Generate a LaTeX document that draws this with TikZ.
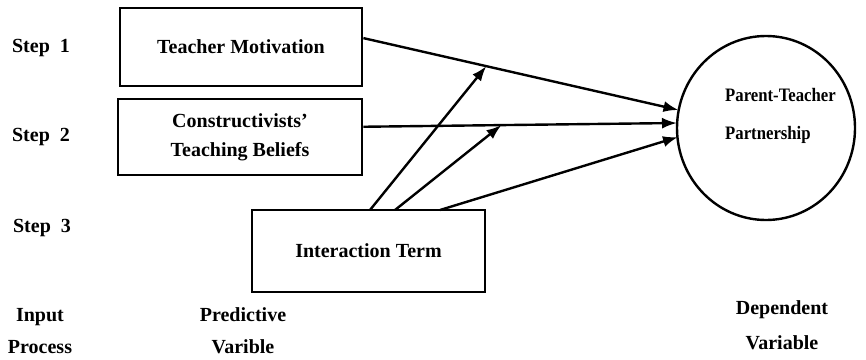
\documentclass[tikz,border=0pt]{standalone}
\usepackage{fontspec}
\setmainfont{Liberation Serif}
\usetikzlibrary{arrows.meta,shapes.geometric,calc}
\begin{document}
\begin{tikzpicture}[x=1pt,y=-1pt,
  font=\fontsize{20}{24}\selectfont\bfseries,
  box/.style={draw,line width=2.8pt,inner sep=0pt},
  lbl/.style={inner sep=0pt,align=center},
  arr/.style={line width=2.4pt,-{Latex[length=15pt,width=11pt]}}]
\useasboundingbox (0,0) rectangle (866,359);
% left step labels
\node[lbl] (step1) at (41,48) {Step\ \ 1};
\node[lbl] (step2) at (41,137) {Step\ \ 2};
\node[lbl] (step3) at (42,228) {Step\ \ 3};
% boxes
\node[box,minimum width=242pt,minimum height=78pt] (tm) at (241,47) {Teacher\ Motivation};
\node[box,minimum width=244pt,minimum height=76pt,align=center,font=\fontsize{20}{29}\selectfont\bfseries] (cb) at (240,137) {Constructivists'\\Teaching Beliefs};
\node[box,minimum width=233pt,minimum height=82pt] (it) at (368.5,251) {Interaction\ Term};
% dependent ellipse
\node[draw,ellipse,line width=2.4pt,minimum width=178pt,minimum height=184pt,inner sep=0pt] (ptp) at (766,128) {};
\node[inner sep=0pt,anchor=west,align=left,font=\fontsize{19}{38}\selectfont\bfseries\addfontfeature{FakeStretch=0.88}] (ptptext) at (725,116) {Parent-Teacher\\Partnership};
% bottom labels
\node[lbl,font=\fontsize{20}{32}\selectfont\bfseries] (input) at (40,331) {Input\\Process};
\node[lbl,font=\fontsize{20}{32}\selectfont\bfseries] (pred) at (243,331) {Predictive\\Varible};
\node[lbl,font=\fontsize{20}{35}\selectfont\bfseries] (dep) at (782,325) {Dependent\\Variable};
% connector coordinates
\coordinate (tmout) at ($(tm.north east)!0.39!(tm.south east)$);
\coordinate (cbout) at ($(cb.north east)!0.37!(cb.south east)$);
\coordinate (e1) at (678.5,110);
\coordinate (e2) at (677,123);
\coordinate (e3) at (678,137);
\coordinate (itA) at (370,210);
\coordinate (itB) at (395,210);
\coordinate (itC) at (440,210);
\coordinate (m1) at ($(tmout)!0.39!(e1)$);
\coordinate (m2) at ($(cbout)!0.44!(e2)$);
% arrows
\draw[arr] (tmout) -- (e1);
\draw[arr] (cbout) -- (e2);
\draw[arr] (itC) -- (e3);
\draw[arr] (itA) -- (m1);
\draw[arr] (itB) -- (m2);
\end{tikzpicture}
\end{document}
